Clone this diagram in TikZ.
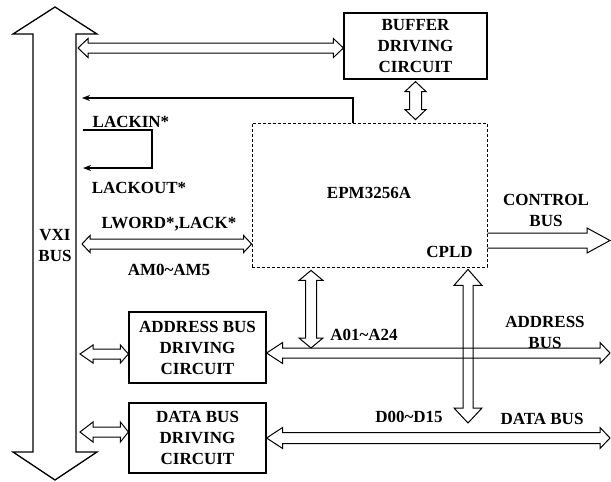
\documentclass[tikz,border=0pt]{standalone}
\usepackage{fontspec}
\setmainfont{Liberation Serif}
\usetikzlibrary{arrows.meta,calc}
\tikzset{every node/.style={font=\fontsize{17}{21}\selectfont\bfseries,inner sep=0pt},
	block/.style={draw,line width=1.2pt,align=center},
	chip/.style={draw,line width=0.8pt,dash pattern=on 3pt off 2pt},
	busline/.style={draw,line width=1pt,line join=miter},
	sigline/.style={draw,line width=1.2pt},
	lbl/.style={anchor=base},
	two/.style={align=center}}
% hollow double arrow, left to right: from, to, shaft, head, left length, right length
\newcommand{\hbus}[6]{\draw[busline] let \p1=#1, \p2=#2 in
	(\x1,\y1) -- (\x1+#5,\y1+#4) -- (\x1+#5,\y1+#3) -- (\x2-#6,\y2+#3) -- (\x2-#6,\y2+#4) -- (\x2,\y2)
	-- (\x2-#6,\y2-#4) -- (\x2-#6,\y2-#3) -- (\x1+#5,\y1-#3) -- (\x1+#5,\y1-#4) -- cycle;}
% hollow double arrow, top to bottom
\newcommand{\vbus}[6]{\draw[busline] let \p1=#1, \p2=#2 in
	(\x1,\y1) -- (\x1+#4,\y1-#5) -- (\x1+#3,\y1-#5) -- (\x2+#3,\y2+#6) -- (\x2+#4,\y2+#6) -- (\x2,\y2)
	-- (\x2-#4,\y2+#6) -- (\x2-#3,\y2+#6) -- (\x1-#3,\y1-#5) -- (\x1-#4,\y1-#5) -- cycle;}
\begin{document}
\begin{tikzpicture}[x=1pt,y=-1pt]
\useasboundingbox (0,0) rectangle (611,482);
\draw[busline,line width=1.3pt] (55,7) -- (97,34) -- (76,34) -- (76,452) -- (97,452) -- (55,480)
	-- (13,452) -- (33,452) -- (33,34) -- (13,34) -- cycle;
\node[two] (vxi) at (55,246) {VXI\\BUS};
\coordinate (vxiE) at (78,0);

\node[block,minimum width=143pt,minimum height=66pt] (buffer) at (415.5,46) {BUFFER\\DRIVING\\CIRCUIT};
\node[chip,minimum width=235pt,minimum height=144pt] (cpld) at (369.5,195) {};
\node (epm) at (369,193) {EPM3256A};
\node[lbl] (cpldlbl) at (449.5,257) {CPLD};
\node[block,minimum width=137pt,minimum height=71pt] (addr) at (197.5,347.5) {ADDRESS BUS\\DRIVING\\CIRCUIT};
\node[block,minimum width=137pt,minimum height=70pt] (data) at (197.5,438) {DATA BUS\\DRIVING\\CIRCUIT};

\coordinate (fb) at (82,98);
\coordinate (lin) at (83,130);
\coordinate (lturn) at (152,168);
\coordinate (lout) at (83,168);
\coordinate (lw) at (82,244);
\coordinate (ctrl) at (610,240.5);
\coordinate (aTap) at (311,348);
\coordinate (dTap) at (468,423);
\coordinate (abus) at (610,353);
\coordinate (dbus) at (610,438);
\coordinate (aL) at (80,354);
\coordinate (dL) at (80,432);

\hbus{([yshift=-2pt]buffer.west -| vxiE)}{([yshift=-2pt]buffer.west)}{5pt}{9.5pt}{10pt}{10pt}
\vbus{([yshift=-2pt]buffer.south)}{([yshift=3pt]buffer.south |- cpld.north)}{6pt}{10.5pt}{10pt}{10pt}
\draw[sigline,-{Stealth[length=8pt,width=6pt]}] (cpld.north -| 353,0) |- (fb);
\draw[sigline,-{Stealth[length=8pt,width=6pt]}] (lin) -| (lturn) -- (lout);
\hbus{(lw)}{(lw -| cpld.west)}{5pt}{8.5pt}{8pt}{8pt}
\draw[busline] let \p1=(ctrl -| cpld.east), \p2=(ctrl) in
	(\x1,\y1+7.5pt) -- (\x2-23pt,\y2+7.5pt) -- (\x2-23pt,\y2+12.5pt) -- (\x2,\y2)
	-- (\x2-23pt,\y2-12.5pt) -- (\x2-23pt,\y2-7.5pt) -- (\x1,\y1-7.5pt);
\vbus{([yshift=-3pt]cpld.south -| aTap)}{(aTap)}{5.5pt}{12pt}{10pt}{10pt}
\vbus{([yshift=-2pt]cpld.south -| dTap)}{(dTap)}{5pt}{14pt}{16pt}{15pt}
\hbus{(addr.east |- abus)}{(abus)}{5pt}{10.5pt}{16pt}{10pt}
\hbus{(data.east |- dbus)}{(dbus)}{5.5pt}{10.5pt}{16pt}{10pt}
\hbus{(aL)}{(aL -| addr.west)}{5pt}{9pt}{13pt}{8pt}
\hbus{(dL)}{(dL -| data.west)}{5pt}{10pt}{13pt}{8pt}

\node[lbl] (lackin) at (131,127) {LACKIN*};
\node[lbl] (lackout) at (139,193) {LACKOUT*};
\node[lbl] (lword) at (169,228) {LWORD*,LACK*};
\node[lbl] (am) at (169,275) {AM0\textasciitilde AM5};
\node[two] (ctrllbl) at (546,210) {CONTROL\\BUS};
\node[lbl] (alines) at (364,340) {A01\textasciitilde A24};
\node[two] (abuslbl) at (545,332) {ADDRESS\\BUS};
\node[lbl] (dlines) at (409,422) {D00\textasciitilde D15};
\node[lbl] (dbuslbl) at (542,424) {DATA BUS};
\end{tikzpicture}
\end{document}
